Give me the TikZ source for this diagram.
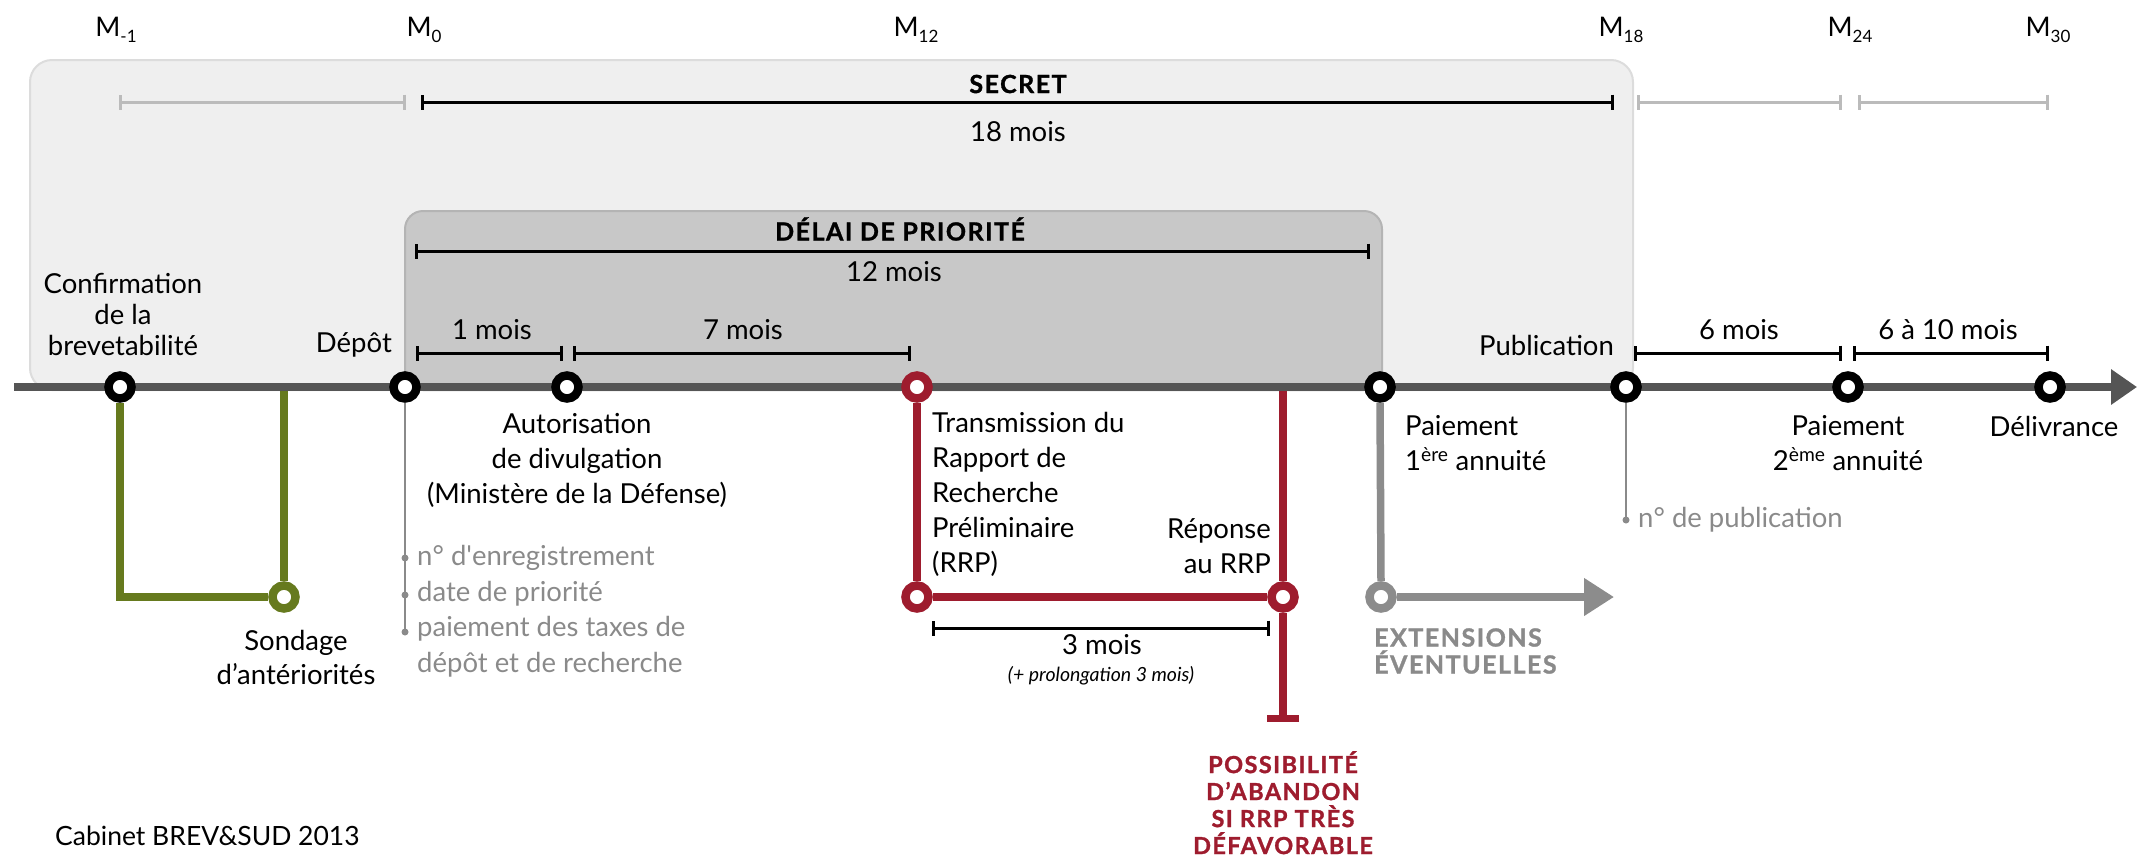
\documentclass[tikz,border=0pt]{standalone}
\usepackage{fontspec}
\setmainfont{Lato}
\newfontfamily\heavyfont{Lato}[LetterSpace=6, FakeBold=1.2]
\usetikzlibrary{arrows.meta,shapes.geometric}
\definecolor{tl}{HTML}{555555}
\definecolor{olive}{HTML}{667A1E}
\definecolor{crim}{HTML}{9E1C2E}
\definecolor{gtxt}{HTML}{8A8A8A}
\definecolor{gbranch}{HTML}{8C8C8C}
\definecolor{secfill}{HTML}{EFEFEF}
\definecolor{secdraw}{HTML}{DCDCDC}
\definecolor{prifill}{HTML}{C8C8C8}
\definecolor{pridraw}{HTML}{B4B4B4}
\definecolor{lbar}{HTML}{BBBBBB}
\newcommand\myfs[2]{\fontsize{#1}{#2}\selectfont}
\pgfdeclarelayer{bg}
\pgfsetlayers{bg,main}
\begin{document}
\begin{tikzpicture}[x=1pt,y=-1pt,
  lbl/.style={font=\myfs{27.5}{35}, inner sep=0pt, align=center},
  mlbl/.style={font=\myfs{27}{30}, inner sep=0pt},
  boldlbl/.style={font=\heavyfont\bfseries\myfs{25}{28}, inner sep=0pt, align=center},
  pt/.style={circle, draw=black, fill=white, line width=8.5pt, minimum size=23pt, inner sep=0pt},
  dimbar/.style={line width=3pt, {Bar[width=15pt]}-{Bar[width=15pt]}},
  ldimbar/.style={dimbar, lbar},
  branch/.style={line width=7.5pt},
  thin/.style={gtxt, line width=2.2pt},
  dot/.style={circle, fill=gtxt, inner sep=0pt, minimum size=7pt}
]
\useasboundingbox (0,0) rectangle (2139,855);

% background boxes
\begin{pgfonlayer}{bg}
\draw[secdraw, fill=secfill, line width=2pt, rounded corners=22pt] (30,60) rectangle (1633,390);
\draw[pridraw, fill=prifill, line width=2pt, rounded corners=18pt] (405,211) rectangle (1382,390);
\end{pgfonlayer}

% month labels
\node[mlbl] (mm1) at (116,30) {M\raisebox{-6pt}{\myfs{17}{17}-1}};
\node[mlbl] (m0) at (424,30) {M\raisebox{-6pt}{\myfs{17}{17}0}};
\node[mlbl] (m12) at (916,30) {M\raisebox{-6pt}{\myfs{17}{17}12}};
\node[mlbl] (m18) at (1621,30) {M\raisebox{-6pt}{\myfs{17}{17}18}};
\node[mlbl] (m24) at (1850,30) {M\raisebox{-6pt}{\myfs{17}{17}24}};
\node[mlbl] (m30) at (2048,30) {M\raisebox{-6pt}{\myfs{17}{17}30}};

% secret row
\draw[ldimbar] (119,102) -- (406,102);
\draw[dimbar] (421,102) -- (1614,102);
\draw[ldimbar] (1637,102) -- (1842,102);
\draw[ldimbar] (1858,102) -- (2049,102);
\node[boldlbl] (secret) at (1018,84) {SECRET};
\node[lbl] (m18t) at (1018,132) {18 mois};

% priority row
\node[boldlbl] (prio) at (900,229) {DÉLAI DE PRIORITÉ};
\draw[dimbar] (415,251) -- (1370,251);
\node[lbl] (m12t) at (894,272) {12 mois};

% small durations
\draw[dimbar] (416,353) -- (563,353);
\draw[dimbar] (573,353) -- (911,353);
\draw[dimbar] (1634,353) -- (1842,353);
\draw[dimbar] (1853,353) -- (2049,353);
\node[lbl] (d1) at (492,330) {1 mois};
\node[lbl] (d7) at (743,330) {7 mois};
\node[lbl] (d6) at (1739,330) {6 mois};
\node[lbl] (d610) at (1948,330) {6 à 10 mois};

% timeline
\coordinate (tstart) at (14,387);
\coordinate (tend) at (2137,387);
\draw[tl, line width=8pt, -{Triangle[length=26pt,width=34pt]}] (tstart) -- (tend);

% points on timeline
\node[pt] (cm1) at (120,387) {};
\node[pt] (c0) at (405,387) {};
\node[pt] (caut) at (567,387) {};
\node[pt, draw=crim] (c12) at (917,387) {};
\node[pt] (c1ann) at (1380,387) {};
\node[pt] (cpub) at (1626,387) {};
\node[pt] (c24) at (1848,387) {};
\node[pt] (cdel) at (2050,387) {};

% branch points
\node[pt, draw=olive] (gs) at (284,597) {};
\node[pt, draw=crim] (rt) at (917,597) {};
\node[pt, draw=crim] (rr) at (1283,597) {};
\node[pt, draw=gbranch] (ge) at (1381,597) {};

\coordinate (gtop) at (284,391);
\coordinate (rtop) at (1283,391);
\coordinate (rend) at (1283,722);
\coordinate (gend) at (1614,597);
\coordinate (c0end) at (405,632);
\coordinate (pubend) at (1626,520);

% green branch
\draw[olive, branch] (cm1.south) |- (gs.west);
\draw[olive, branch] (gs.north) -- (gtop);
% red branch
\draw[crim, branch] (c12.south) -- (rt.north);
\draw[crim, branch] (rt.east) -- (rr.west);
\draw[crim, branch] (rtop) -- (rr.north);
\draw[crim, branch, -{Bar[width=32pt]}] (rr.south) -- (rend);
% grey branch
\draw[gbranch, branch] (c1ann.south) -- (ge.north);
\draw[gbranch, branch, -{Triangle[length=30pt,width=36pt]}] (ge.east) -- (gend);
% thin lines
\draw[thin] (c0.south) -- (c0end);
\draw[thin] (cpub.south) -- (pubend);
\node[dot] (dA) at (405,558) {};
\node[dot] (dB) at (405,595) {};
\node[dot] (dC) at (405,632) {};
\node[dot] (dP) at (1626,520) {};

% 3 months bar
\draw[dimbar] (932,628) -- (1270,628);

% labels
\node[lbl, font=\myfs{27.5}{31}] (confirm) at (123,314) {Confirmation\\de la\\brevetabilité};
\node[lbl, anchor=east] (depot) at (392,345) {Dépôt};
\node[lbl] (autor) at (577,460) {Autorisation\\de divulgation\\(Ministère de la Défense)};
\node[lbl, font=\myfs{27.5}{34}] (sondage) at (296,657) {Sondage\\d’antériorités};
\node[lbl, anchor=west, align=left, text=gtxt, font=\myfs{27.5}{35.5}] (bul) at (417,611) {n° d\textquotesingle enregistrement\\date de priorité\\paiement des taxes de\\dépôt et de recherche};
\node[lbl, anchor=west, align=left] (trans) at (932,494) {Transmission du\\Rapport de\\Recherche\\Préliminaire\\(RRP)};
\node[lbl, anchor=east, align=right] (rep) at (1271,546) {Réponse\\au RRP};
\node[lbl] (d3) at (1102,645) {3 mois};
\node[lbl, font=\itshape\myfs{19.5}{22}] (prol) at (1101,676) {(+ prolongation 3 mois)};
\node[boldlbl, text=crim, font=\heavyfont\bfseries\myfs{23.5}{27}, anchor=north] (aband) at (1283,751) {POSSIBILITÉ\\D’ABANDON\\SI RRP TRÈS\\DÉFAVORABLE};
\node[boldlbl, text=gtxt, anchor=west, align=left, font=\heavyfont\bfseries\myfs{25}{27}] (ext) at (1374,651) {EXTENSIONS\\ÉVENTUELLES};
\node[lbl, anchor=west, align=left] (pay1) at (1405,443) {Paiement\\1\textsuperscript{ère} annuité};
\node[lbl, anchor=east] (publ) at (1614,345) {Publication};
\node[lbl, anchor=west, text=gtxt] (npub) at (1638,520) {n° de publication};
\node[lbl] (pay2) at (1848,443) {Paiement\\2\textsuperscript{ème} annuité};
\node[lbl] (deliv) at (2054,426) {Délivrance};
\node[lbl, anchor=west, font=\myfs{26.5}{30}] (cab) at (55,836) {Cabinet BREV\&SUD 2013};
\end{tikzpicture}
\end{document}
